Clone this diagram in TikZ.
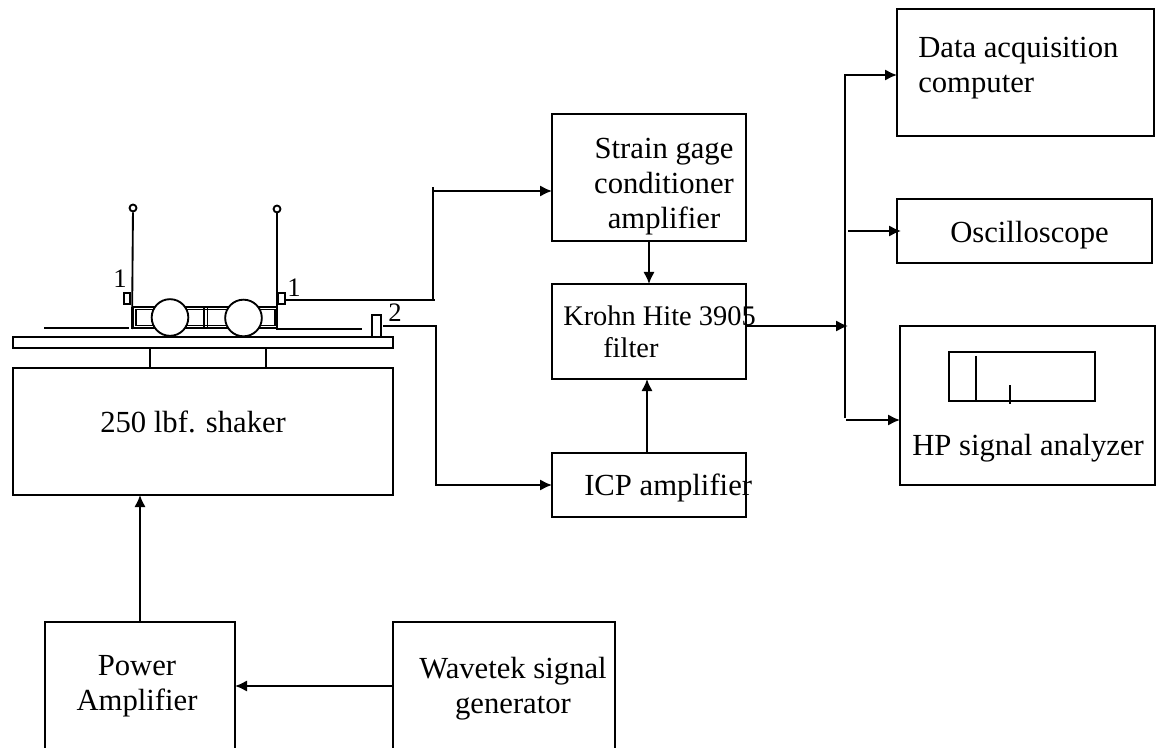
\documentclass[tikz,border=0pt]{standalone}
\usepackage{fontspec}
\setmainfont{Liberation Serif}
\usetikzlibrary{arrows.meta}
\newcommand{\bx}[5]{\node[box,minimum width={(#4-#2)*0.75pt},minimum height={(#5-#3)*0.75pt}] (#1) at ({(#2+#4)/2},{(#3+#5)/2}) {};}
\tikzset{
 box/.style={draw=black,line width=1.5pt,inner sep=0pt,outer sep=0pt,fill=none},
 lbl/.style={inner sep=0pt,font=\fontsize{23pt}{26.4pt}\selectfont,align=left,anchor=west},
 clbl/.style={inner sep=0pt,font=\fontsize{23pt}{26.4pt}\selectfont,align=center},
 num/.style={inner sep=0pt,font=\fontsize{20pt}{22pt}\selectfont},
 conn/.style={line width=1.5pt},
 arr/.style={line width=1.5pt,-{Latex[length=9pt,width=8.5pt]}},
 part/.style={draw=black,line width=1.4pt},
 wheel/.style={draw=black,line width=1.4pt,fill=white,circle,inner sep=0pt,outer sep=0pt},
}
\begin{document}
\begin{tikzpicture}[x=0.75pt,y=-0.75pt]
\useasboundingbox (0,0) rectangle (1156,748);
\clip (0,0) rectangle (1156,748);
% boxes
\bx{daq}{897}{9}{1154}{136}
\bx{osc}{897}{199}{1152}{263}
\bx{hp}{900}{326}{1155}{485}
\bx{screen}{949}{352}{1095}{401}
\bx{strain}{552}{114}{746}{241}
\bx{krohn}{552}{284}{746}{379}
\bx{icp}{552}{453}{746}{517}
\bx{shaker}{13}{368}{393}{495}
\bx{tabletop}{13}{337}{393}{348}
\bx{pa}{45}{622}{235}{790}
\bx{wave}{393}{622}{615}{790}
% labels
\node[lbl] (tdaq) at (918,68) {Data acquisition\\computer};
\node[lbl] (tosc) at (950,235) {Oscilloscope};
\node[lbl] (thp) at (912,448) {HP signal analyzer};
\node[clbl] (tstrain) at (664,186.5) {Strain gage\\conditioner\\amplifier};
\node[lbl,font=\fontsize{21.3pt}{23.6pt}\selectfont] (tkrohn) at (563,332) {Krohn Hite 3905\\\hspace*{30pt}filter};
\node[lbl] (ticp) at (584,488) {ICP amplifier};
\node[lbl] (tshaker) at (100,422) {250 lbf. shaker};
\node[clbl] (tpa) at (137,686) {Power\\Amplifier};
\node[clbl] (twave) at (513,689) {Wavetek signal\\generator};
% analyzer trace
\coordinate (sa1) at (976,356); \coordinate (sa2) at (976,401);
\coordinate (sb1) at (1010,385); \coordinate (sb2) at (1010,404);
\draw[conn] (sa1) -- (sa2);
\draw[line width=2pt] (sb1) -- (sb2);
% test rig
\node[part,inner sep=0pt,minimum size=5.2pt,circle] (tipL) at (133,208) {};
\node[part,inner sep=0pt,minimum size=5.2pt,circle] (tipR) at (277,209) {};
\coordinate (rodLb) at (132,329); \coordinate (rodRb) at (277,330);
\draw[part] (tipL) -- (rodLb);
\draw[part] (tipR) -- (rodRb);
\bx{sensL}{123.5}{293}{130}{304}
\bx{sensR}{278}{293}{285}{304}
\bx{sens2}{372}{315}{381}{337}
\bx{tray}{133}{307}{277}{328}
\node[draw=black,line width=0.8pt,inner sep=0pt,minimum width=104.25pt,minimum height=11.5pt] (trayin) at (205.5,317.5) {};
\coordinate (m1t) at (204,307); \coordinate (m1b) at (204,328);
\coordinate (m2t) at (207.5,307); \coordinate (m2b) at (207.5,328);
\draw[line width=0.9pt] (m1t) -- (m1b) (m2t) -- (m2b);
\node[wheel,minimum size=27.5pt] (w1) at (170,317.5) {};
\node[wheel,minimum size=27.5pt] (w2) at (243.5,318) {};
\coordinate (bl1) at (44,328); \coordinate (bl2) at (129,328);
\coordinate (br1) at (278,329.5); \coordinate (br2) at (362,329.5);
\draw[conn] (bl1) -- (bl2);
\draw[conn] (br1) -- (br2);
\coordinate (pe1) at (150,348); \coordinate (pe2) at (150,368);
\coordinate (pe3) at (266,348); \coordinate (pe4) at (266,368);
\draw[conn] (pe1) -- (pe2);
\draw[conn] (pe3) -- (pe4);
\node[num] (n1L) at (120,279) {1};
\node[num] (n1R) at (294,288) {1};
\node[num] (n2) at (395,313) {2};
% connectors
\draw[arr] (pa.north -| 140,0) -- (shaker.south -| 140,0);
\coordinate (wv) at (393,686);
\coordinate (pv) at (235,686);
\draw[arr] (wv) -- (pv);
\coordinate (c1a) at (286,300);
\coordinate (c1b) at (435,300);
\coordinate (c1c) at (432.5,300);
\coordinate (c1d) at (432.5,191);
\coordinate (c1s) at (432.5,187);
\coordinate (c1e) at (552,191);
\draw[conn] (c1a) -- (c1b);
\draw[conn] (c1c) -- (c1s);
\draw[arr] (c1d) -- (c1e);
\coordinate (c2a) at (383,326);
\coordinate (c2b) at (436,326);
\coordinate (c2c) at (436,485);
\coordinate (c2d) at (552,485);
\draw[arr] (c2a) -- (c2b) -- (c2c) -- (c2d);
\draw[arr] (strain.south -| 649,0) -- (krohn.north -| 649,0);
\draw[arr] (icp.north -| 647,0) -- (krohn.south -| 647,0);
\coordinate (kout) at (746,326);
\coordinate (junc) at (848,326);
\draw[arr] (kout) -- (junc);
\coordinate (t1) at (844.5,418);
\coordinate (t2) at (844.5,75);
\coordinate (t3) at (897,75);
\draw[arr] (t1) -- (t2) -- (t3);
\coordinate (o1) at (848,231);
\coordinate (o2) at (901,231);
\draw[arr] (o1) -- (o2);
\coordinate (h1) at (846,420);
\coordinate (h2) at (900,420);
\draw[arr] (h1) -- (h2);
\end{tikzpicture}
\end{document}
